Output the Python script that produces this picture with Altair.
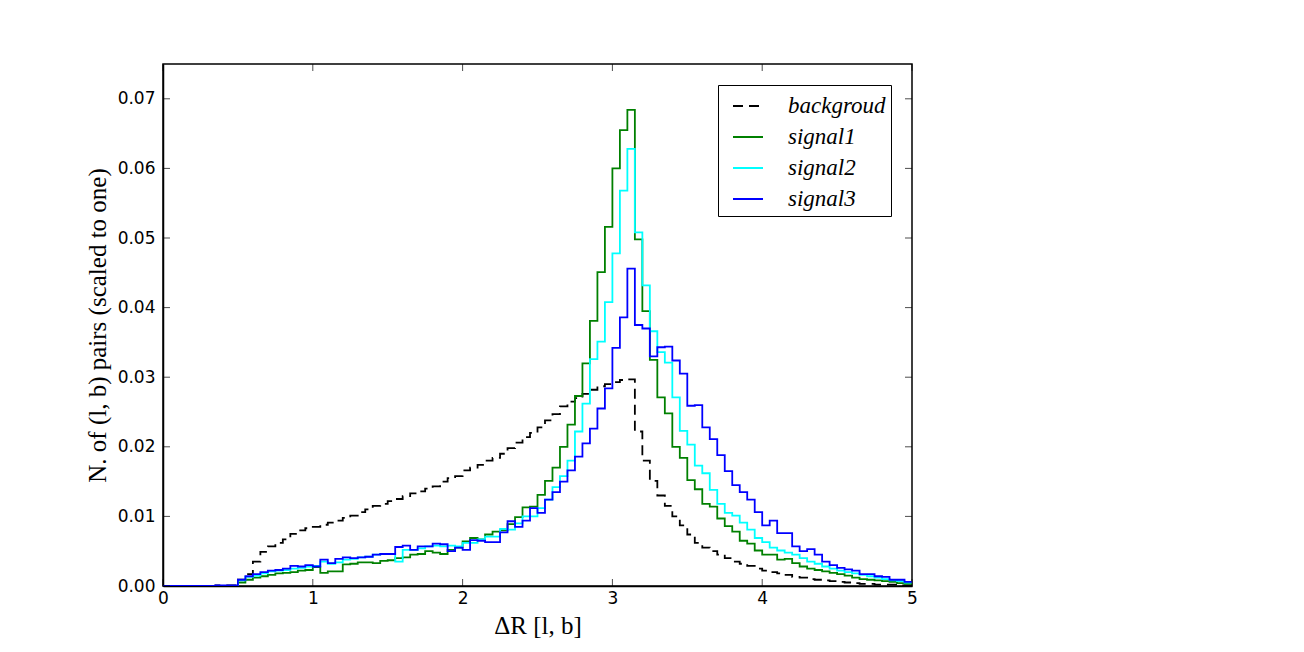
import altair as alt
import pandas as pd

# ---------------- data ----------------
bin_width = 0.05
series_names = ["backgroud", "signal1", "signal2", "signal3"]
series_colors = ["black", "green", "cyan", "blue"]

background = [
    0, 0, 0, 0, 0, 0, 0, 0.0001, 0.0001, 0.0001,
    0.0009, 0.0017, 0.0035, 0.0049, 0.0057, 0.0062, 0.0067, 0.0075, 0.0080, 0.0083,
    0.0085, 0.0088, 0.0091, 0.0094, 0.0098, 0.0101, 0.0106, 0.0110, 0.0115, 0.0118,
    0.0122, 0.0125, 0.0129, 0.0133, 0.0136, 0.0140, 0.0143, 0.0150, 0.0155, 0.0158,
    0.0166, 0.0170, 0.0174, 0.0180, 0.0184, 0.0190, 0.0198, 0.0206, 0.0214, 0.0220,
    0.0228, 0.0238, 0.0247, 0.0258, 0.0265, 0.0270, 0.0276, 0.0282, 0.0287, 0.0290,
    0.0293, 0.0296, 0.0297, 0.0222, 0.0180, 0.0151, 0.0130, 0.0115, 0.0100, 0.0087,
    0.0074, 0.0062, 0.0055, 0.0050, 0.0045, 0.0040, 0.0035, 0.0032, 0.0029, 0.0025,
    0.0022, 0.0020, 0.0018, 0.0016, 0.0013, 0.0012, 0.0010, 0.0009, 0.0008, 0.0007,
    0.0006, 0.0005, 0.0004, 0.0003, 0.0003, 0.0002, 0.0002, 0.0002, 0.0001, 0.0001,
]

signal1 = [
    0, 0, 0, 0, 0, 0, 0, 0, 0, 0,
    0.0005, 0.0009, 0.0012, 0.0014, 0.0016, 0.0018, 0.0019, 0.0020, 0.0022, 0.0023,
    0.0027, 0.0019, 0.0021, 0.0021, 0.0031, 0.0032, 0.0034, 0.0034, 0.0033, 0.0036,
    0.0037, 0.0040, 0.0041, 0.0045, 0.0046, 0.0050, 0.0048, 0.0046, 0.0052, 0.0055,
    0.0064, 0.0069, 0.0067, 0.0074, 0.0078, 0.0080, 0.0089, 0.0099, 0.0113, 0.0114,
    0.0131, 0.0151, 0.0170, 0.0200, 0.0232, 0.0273, 0.0320, 0.0381, 0.0451, 0.0516,
    0.0600, 0.0655, 0.0684, 0.0498, 0.0395, 0.0325, 0.0271, 0.0248, 0.0200, 0.0184,
    0.0152, 0.0139, 0.0118, 0.0114, 0.0097, 0.0086, 0.0078, 0.0065, 0.0061, 0.0051,
    0.0045, 0.0045, 0.0038, 0.0039, 0.0033, 0.0028, 0.0025, 0.0023, 0.0021, 0.0019,
    0.0017, 0.0015, 0.0012, 0.0010, 0.0009, 0.0008, 0.0007, 0.0006, 0.0004, 0.0003,
]

signal2 = [
    0, 0, 0, 0, 0, 0, 0, 0, 0, 0,
    0.0008, 0.0013, 0.0015, 0.0018, 0.0021, 0.0022, 0.0023, 0.0025, 0.0026, 0.0028,
    0.0029, 0.0035, 0.0032, 0.0034, 0.0038, 0.0039, 0.0041, 0.0042, 0.0045, 0.0046,
    0.0046, 0.0035, 0.0052, 0.0052, 0.0054, 0.0057, 0.0058, 0.0057, 0.0058, 0.0057,
    0.0062, 0.0062, 0.0067, 0.0071, 0.0071, 0.0082, 0.0081, 0.0090, 0.0100, 0.0100,
    0.0112, 0.0124, 0.0142, 0.0158, 0.0180, 0.0222, 0.0262, 0.0326, 0.0351, 0.0408,
    0.0478, 0.0568, 0.0628, 0.0508, 0.0432, 0.0366, 0.0336, 0.0321, 0.0271, 0.0223,
    0.0203, 0.0173, 0.0162, 0.0138, 0.0118, 0.0105, 0.0101, 0.0091, 0.0081, 0.0069,
    0.0063, 0.0055, 0.0051, 0.0048, 0.0045, 0.0040, 0.0035, 0.0032, 0.0028, 0.0025,
    0.0022, 0.0020, 0.0018, 0.0016, 0.0014, 0.0012, 0.0010, 0.0008, 0.0007, 0.0005,
]

signal3 = [
    0, 0, 0, 0, 0, 0, 0, 0.0001, 0.0001, 0.0001,
    0.0009, 0.0014, 0.0017, 0.0020, 0.0022, 0.0023, 0.0025, 0.0029, 0.0028, 0.0030,
    0.0028, 0.0038, 0.0033, 0.0039, 0.0041, 0.0040, 0.0041, 0.0042, 0.0045, 0.0046,
    0.0046, 0.0056, 0.0058, 0.0052, 0.0057, 0.0057, 0.0061, 0.0060, 0.0050, 0.0055,
    0.0052, 0.0066, 0.0065, 0.0063, 0.0063, 0.0077, 0.0093, 0.0085, 0.0094, 0.0112,
    0.0105, 0.0124, 0.0135, 0.0150, 0.0166, 0.0186, 0.0205, 0.0226, 0.0255, 0.0284,
    0.0342, 0.0386, 0.0456, 0.0375, 0.0370, 0.0330, 0.0343, 0.0344, 0.0324, 0.0305,
    0.0259, 0.0260, 0.0228, 0.0211, 0.0188, 0.0165, 0.0145, 0.0135, 0.0124, 0.0106,
    0.0087, 0.0094, 0.0076, 0.0076, 0.0057, 0.0050, 0.0053, 0.0045, 0.0035, 0.0030,
    0.0026, 0.0024, 0.0022, 0.0017, 0.0017, 0.0014, 0.0013, 0.0009, 0.0009, 0.0006,
]

x_ticks = [0, 1, 2, 3, 4, 5]
y_ticks = [0.00, 0.01, 0.02, 0.03, 0.04, 0.05, 0.06, 0.07]

# ---------------- tables ----------------
rows = []
for name, vals in zip(series_names, [background, signal1, signal2, signal3]):
    ext = vals + [vals[-1]]
    for i, v in enumerate(ext):
        rows.append({"series": name, "edge": round(i * bin_width, 4), "value": v})
df = pd.DataFrame(rows)
xt = pd.DataFrame({"v": x_ticks})
yt = pd.DataFrame({"v": y_ticks})

W, H = 749, 522
xs = alt.Scale(domain=[0, 5], nice=False, zero=False)
ys = alt.Scale(domain=[0, 0.075], nice=False, zero=False)

x_axis = alt.Axis(values=x_ticks, format="d", title="ΔR [l, b]",
                  labelPadding=4, titlePadding=7, labelFlush=False)
y_axis = alt.Axis(values=y_ticks, format=".2f",
                  title="N. of (l, b) pairs (scaled to one)",
                  labelPadding=8, titlePadding=7, labelFlush=False)

legend = alt.Legend(
    title=None, orient="top-right", offset=21,
    symbolType="stroke", symbolSize=900, symbolStrokeWidth=1.8,
    labelFont="Liberation Serif", labelFontStyle="italic", labelFontSize=23,
    labelColor="black", labelBaseline="middle",
    strokeColor="black", fillColor="white", padding=5,
    symbolOffset=9, labelOffset=24, rowPadding=3, cornerRadius=0,
)

lines = alt.Chart(df).mark_line(interpolate="step-after", strokeWidth=1.8, clip=True).encode(
    x=alt.X("edge:Q", scale=xs, axis=x_axis),
    y=alt.Y("value:Q", scale=ys, axis=y_axis),
    color=alt.Color("series:N", scale=alt.Scale(domain=series_names, range=series_colors),
                    legend=legend),
    strokeDash=alt.StrokeDash("series:N",
                              scale=alt.Scale(domain=series_names,
                                              range=[[10, 6], [1, 0], [1, 0], [1, 0]]),
                              legend=legend),
)

tick_style = dict(color="black", thickness=1, size=7)
left_ticks = alt.Chart(yt).mark_tick(orient="horizontal", **tick_style).encode(
    y=alt.Y("v:Q", scale=ys, axis=y_axis), x=alt.value(3.5))
right_ticks = alt.Chart(yt).mark_tick(orient="horizontal", **tick_style).encode(
    y=alt.Y("v:Q", scale=ys, axis=y_axis), x=alt.value(W - 3.5))
bottom_ticks = alt.Chart(xt).mark_tick(orient="vertical", **tick_style).encode(
    x=alt.X("v:Q", scale=xs, axis=x_axis), y=alt.value(H - 3.5))
top_ticks = alt.Chart(xt).mark_tick(orient="vertical", **tick_style).encode(
    x=alt.X("v:Q", scale=xs, axis=x_axis), y=alt.value(3.5))

chart = alt.layer(lines, left_ticks, right_ticks, bottom_ticks, top_ticks).properties(
    width=W, height=H,
    background="white",
    autosize=alt.AutoSizeParams(type="none"),
    padding={"left": 155, "top": 56, "right": 384, "bottom": 58},
).configure_view(
    stroke="black", strokeWidth=1.5
).configure_axis(
    ticks=False, domain=True, domainColor="black", domainWidth=1.5, grid=False,
    labelFont="DejaVu Sans", labelFontSize=17, labelColor="black",
    titleFont="Liberation Serif", titleFontSize=25, titleFontWeight="normal",
    titleColor="black",
)

chart.save("out.html", embed_options={"renderer": "svg", "actions": False})
